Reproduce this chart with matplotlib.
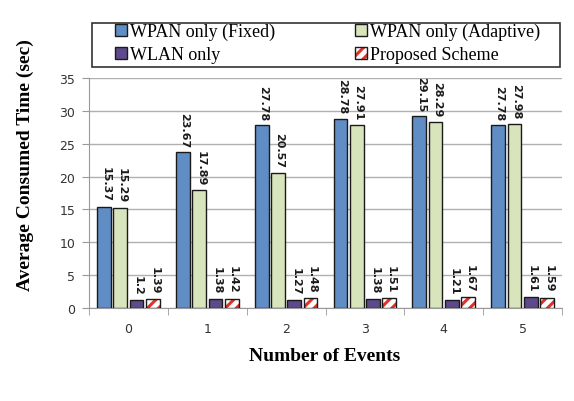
import numpy as np
import matplotlib
matplotlib.use("Agg")
import matplotlib.pyplot as plt
from matplotlib.patches import Patch, Rectangle

# data
events = ["0", "1", "2", "3", "4", "5"]
wpan_fixed = [15.37, 23.67, 27.78, 28.78, 29.15, 27.78]
wpan_adaptive = [15.29, 17.89, 20.57, 27.91, 28.29, 27.98]
wlan_only = [1.2, 1.38, 1.27, 1.38, 1.21, 1.61]
proposed = [1.39, 1.42, 1.48, 1.51, 1.67, 1.59]

labels = ["WPAN only (Fixed)", "WPAN only (Adaptive)", "WLAN only", "Proposed Scheme"]
colors = ["#5F8DC4", "#D8E4BC", "#5E4A8B", "white"]
red = "#E0322B"

plt.rcParams["hatch.linewidth"] = 2.2
serif = "Liberation Serif"
W, H = 574, 402

fig = plt.figure(figsize=(5.74, 4.02), dpi=100)
ax = fig.add_axes([89 / W, 1 - 309 / H, (562 - 89) / W, (309 - 79) / H])

x = np.arange(len(events))
w = 0.175
step = 0.207
series = [wpan_fixed, wpan_adaptive, wlan_only, proposed]
handles = []
for i, vals in enumerate(series):
    pos = x + (i - 1.5) * step
    if i < 3:
        ax.bar(pos, vals, w, color=colors[i], edgecolor="#1a1a1a",
               linewidth=1.0, zorder=3)
        handles.append(Patch(facecolor=colors[i], edgecolor="#1a1a1a", linewidth=1.0))
    else:
        ax.bar(pos, vals, w, color="white", edgecolor=red, hatch="///",
               linewidth=0, zorder=3)
        ax.bar(pos, vals, w, fill=False, edgecolor="#1a1a1a", linewidth=1.0, zorder=4)
        handles.append((Patch(facecolor="white", edgecolor=red, hatch="///", linewidth=0),
                        Patch(fill=False, edgecolor="#1a1a1a", linewidth=1.0)))
    for p, v in zip(pos, vals):
        ax.annotate(f"{v:g}", (p, v), xytext=(1, 4), textcoords="offset points",
                    rotation=270, ha="center", va="bottom", fontsize=8,
                    fontweight="bold", color="#1a1a1a", zorder=5)

ax.set_ylim(0, 35)
ax.set_yticks(np.arange(0, 36, 5))
ax.set_xlim(-0.5, len(events) - 0.5)
ax.set_xticks(x)
ax.set_xticklabels(events)
ax.set_xticks(np.arange(-0.5, len(events)), minor=True)
ax.tick_params(axis="x", which="major", length=0, pad=10, labelsize=9, labelcolor="#333333")
ax.tick_params(axis="x", which="minor", length=5, color="#999999", direction="out")
ax.tick_params(axis="y", length=5, pad=5, color="#999999", labelsize=9, labelcolor="#333333")
ax.grid(axis="y", color="#b0b0b0", linewidth=1.0, zorder=0)
for s in ["top", "right"]:
    ax.spines[s].set_visible(False)
for s in ["left", "bottom"]:
    ax.spines[s].set_color("#999999")

fig.text(25 / W, 1 - 165 / H, "Average Consumed Time (sec)", rotation=90,
         ha="center", va="center", fontfamily=serif, fontweight="bold", fontsize=14)
fig.text(325 / W, 1 - 357 / H, "Number of Events", ha="center", va="center",
         fontfamily=serif, fontweight="bold", fontsize=14)

# legend box drawn separately, entries placed row-wise
fig.patches.append(Rectangle((92 / W, 1 - 68 / H), (560 - 92) / W, 44 / H,
                             transform=fig.transFigure, fill=False,
                             edgecolor="#333333", linewidth=1.2))
order = [0, 2, 1, 3]
leg = fig.legend([handles[k] for k in order], [labels[k] for k in order],
                 loc="upper left", ncol=2, bbox_to_anchor=(115 / W, 1 - 24 / H),
                 frameon=False, prop={"family": serif, "size": 13},
                 handlelength=0.65, handleheight=0.65, handletextpad=0.2,
                 borderpad=0.0, labelspacing=0.33, columnspacing=4.4, borderaxespad=0)

fig.savefig("out.png", dpi=100)
